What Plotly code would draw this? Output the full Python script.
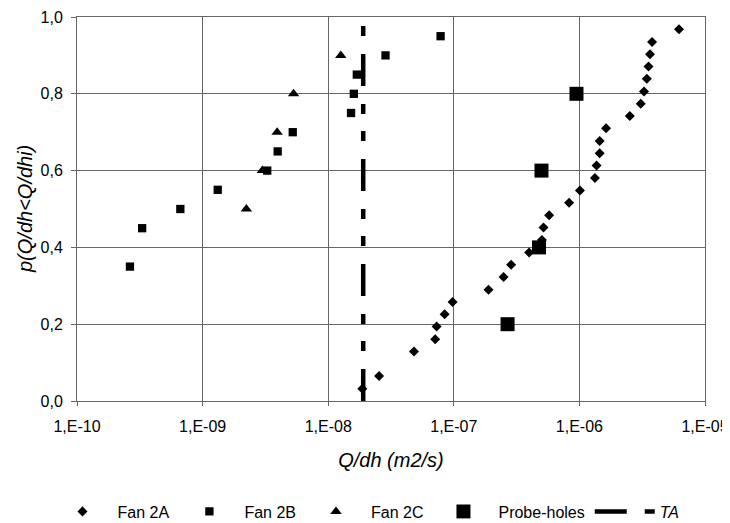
import plotly.graph_objects as go

# ---- data ----
fan2a_x = [1.87e-8, 2.54e-8, 4.82e-8, 7.11e-8, 7.3e-8, 8.45e-8, 9.78e-8, 1.89e-7,
           2.49e-7, 2.86e-7, 3.98e-7, 5.03e-7, 5.18e-7, 5.74e-7, 8.28e-7, 1.01e-6,
           1.33e-6, 1.37e-6, 1.45e-6, 1.45e-6, 1.63e-6, 2.52e-6, 3.08e-6, 3.27e-6,
           3.44e-6, 3.55e-6, 3.65e-6, 3.79e-6, 6.21e-6]
fan2a_y = [0.032, 0.065, 0.129, 0.161, 0.194, 0.226, 0.258, 0.290,
           0.323, 0.355, 0.387, 0.419, 0.452, 0.484, 0.516, 0.548,
           0.581, 0.613, 0.645, 0.677, 0.710, 0.742, 0.774, 0.806,
           0.839, 0.871, 0.903, 0.935, 0.968]

fan2b_x = [2.64e-10, 3.3e-10, 6.65e-10, 1.32e-9, 3.27e-9, 3.96e-9, 5.22e-9,
           1.52e-8, 1.60e-8, 1.69e-8, 2.86e-8, 7.85e-8]
fan2b_y = [0.35, 0.45, 0.50, 0.55, 0.60, 0.65, 0.70, 0.75, 0.80, 0.85, 0.90, 0.95]

fan2c_x = [2.23e-9, 2.99e-9, 3.92e-9, 5.3e-9, 1.26e-8]
fan2c_y = [0.50, 0.60, 0.70, 0.80, 0.90]

probe_x = [2.68e-7, 4.77e-7, 4.99e-7, 9.48e-7]
probe_y = [0.20, 0.40, 0.60, 0.80]

ta_x = [1.9e-8, 1.9e-8]
ta_y = [0.0, 1.0]

x_tick_vals = [1e-10, 1e-9, 1e-8, 1e-7, 1e-6, 1e-5]
x_tick_text = ["1,E-10", "1,E-09", "1,E-08", "1,E-07", "1,E-06", "1,E-05"]
y_tick_vals = [0.0, 0.2, 0.4, 0.6, 0.8, 1.0]
y_tick_text = ["0,0", "0,2", "0,4", "0,6", "0,8", "1,0"]

x_title = "<i>Q/dh (m2/s)</i>"
y_title = "<i>p(Q/dh&lt;Q/dhi)</i>"

# ---- figure ----
fig = go.Figure()
fig.add_trace(go.Scatter(x=fan2a_x, y=fan2a_y, mode="markers", name="Fan 2A",
                         marker=dict(symbol="diamond", size=7.7, color="black")))
fig.add_trace(go.Scatter(x=fan2b_x, y=fan2b_y, mode="markers", name="Fan 2B",
                         marker=dict(symbol="square", size=8.3, color="black")))
fig.add_trace(go.Scatter(x=fan2c_x, y=fan2c_y, mode="markers", name="Fan 2C",
                         marker=dict(symbol="triangle-up", size=10, color="black")))
fig.add_trace(go.Scatter(x=probe_x, y=probe_y, mode="markers", name="Probe-holes",
                         marker=dict(symbol="square", size=14, color="black")))
fig.add_trace(go.Scatter(x=ta_x, y=ta_y, mode="lines", name="<i>TA</i>",
                         line=dict(color="black", width=4.5,
                                   dash="32px,18px,10px,17px,10px,18px")))

grid = "#666666"
# the page body has an 8px margin, so the figure is 8px smaller than the window
fig.update_layout(
    template="none",
    width=722, height=515,
    margin=dict(l=69, r=25, t=9, b=121.6, autoexpand=False),
    paper_bgcolor="white", plot_bgcolor="white",
    font=dict(family="Liberation Sans, Arial, sans-serif", size=16, color="black"),
    showlegend=True,
    legend=dict(orientation="h", x=-0.047, xanchor="left", y=-0.2877, yanchor="middle",
                itemwidth=60, font=dict(size=16), bgcolor="rgba(0,0,0,0)",
                traceorder="normal"),
    xaxis=dict(type="log", range=[-10, -5], tickvals=x_tick_vals, ticktext=x_tick_text,
               showgrid=True, gridcolor=grid, gridwidth=1,
               showline=True, linecolor=grid, linewidth=1, mirror=True,
               ticks="outside", ticklen=4, tickcolor=grid, zeroline=False,
               automargin=False, ticklabelstandoff=7,
               title=dict(text=x_title, font=dict(size=20), standoff=18)),
    yaxis=dict(range=[0, 1], tickvals=y_tick_vals, ticktext=y_tick_text,
               showgrid=True, gridcolor=grid, gridwidth=1,
               showline=True, linecolor=grid, linewidth=1, mirror=True,
               ticks="outside", ticklen=5, tickcolor=grid, zeroline=False,
               automargin=False, ticklabelstandoff=5),
    annotations=[dict(text=y_title, xref="paper", yref="paper", x=-0.0828, y=0.5,
                      xanchor="center", yanchor="middle", textangle=-90,
                      showarrow=False, font=dict(size=20))],
)

fig.write_html("out.html")
